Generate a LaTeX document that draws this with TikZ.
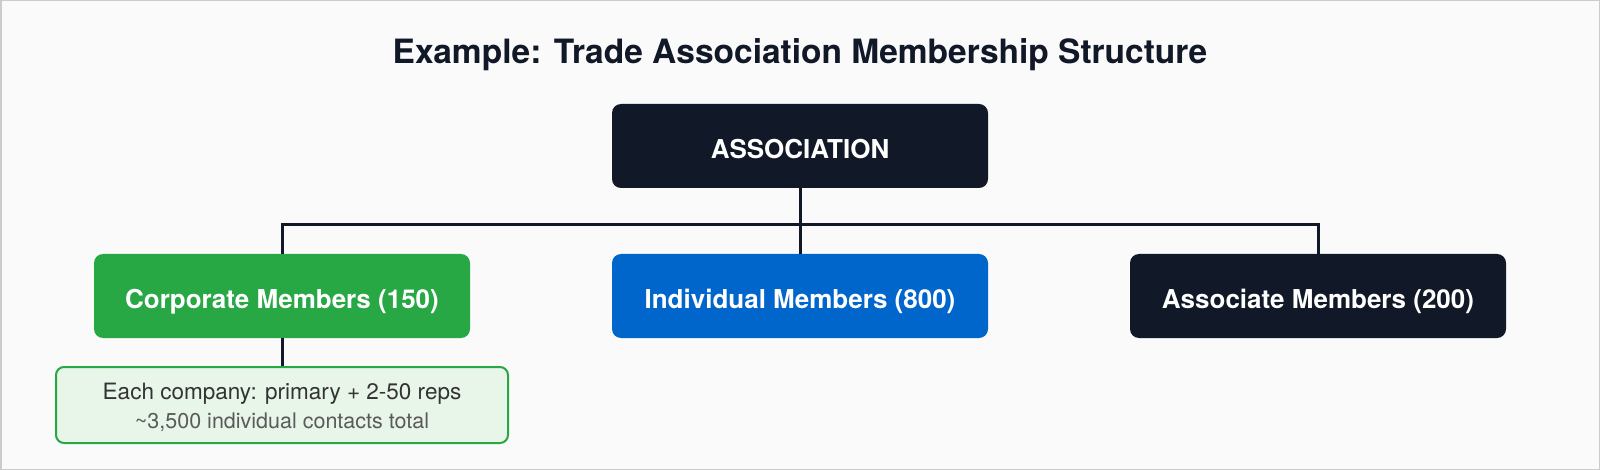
\documentclass[tikz,border=0pt]{standalone}
\usepackage{fontspec}
\setmainfont{TeX Gyre Heros}
\usepackage{tikz}
\usetikzlibrary{positioning}
\usepackage{xcolor}

\definecolor{navy}{HTML}{111827}
\definecolor{corpgreen}{HTML}{28A745}
\definecolor{indblue}{HTML}{0066CC}
\definecolor{notefill}{HTML}{E8F5E9}
\definecolor{notetext}{HTML}{333333}
\definecolor{notegray}{HTML}{5A5A5A}
\definecolor{pagebg}{HTML}{FAFAFA}
\definecolor{framegray}{HTML}{CCCCCC}

\tikzset{
  member/.style={rounded corners=9pt, minimum width=376pt, minimum height=84pt,
    inner sep=0pt, text height=25pt, text depth=0pt, text=white,
    font=\fontsize{26}{30}\selectfont\bfseries},
  branch/.style={draw=navy, line width=3pt},
}

\begin{document}
\begin{tikzpicture}[x=1pt,y=-1pt]
% \draw[lightgray,step=100] (0,0) grid (1600,470);
\useasboundingbox (0,0) rectangle (1600,470);
\draw[fill=pagebg, draw=framegray, line width=3pt] (0,0) rectangle (1600,470);

\node[anchor=base, text=navy, font=\fontsize{33.5}{38}\selectfont\bfseries] (title) at (800,64)
  {Example: Trade Association Membership Structure};

\node[member, fill=navy] (assoc) at (800,146) {ASSOCIATION};

\node[member, fill=corpgreen] (corp) at (282,296) {Corporate Members (150)};
\node[member, fill=indblue] (indiv) at (800,296) {Individual Members (800)};
\node[member, fill=navy] (assoc2) at (1318,296) {Associate Members (200)};

\node[rounded corners=8pt, fill=notefill, draw=corpgreen, line width=2pt,
  minimum width=452pt, minimum height=76pt, inner sep=0pt, align=center,
  font=\fontsize{22.5}{27}\selectfont] (note) at (282,405)
  {\rule{0pt}{21pt}{\color{notetext}Each company: primary + 2-50 reps}\\[2pt]
   {\fontsize{21.5}{27}\selectfont\color{notegray}\textasciitilde3,500 individual contacts total}};

\coordinate (bus) at (800,225);

\draw[branch] (assoc.south) -- (indiv.north);
\draw[branch] (corp.north) |- (bus) -| (assoc2.north);
\draw[branch] (corp.south) -- (note.north);

\end{tikzpicture}
\end{document}
